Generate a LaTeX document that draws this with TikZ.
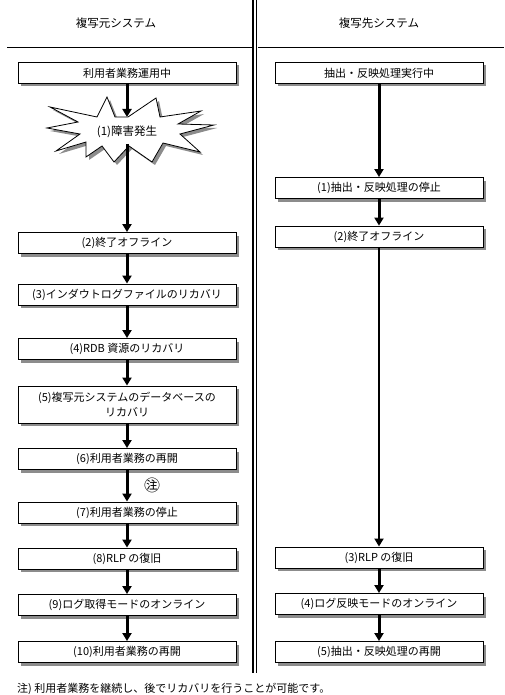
\documentclass[tikz,border=0pt]{standalone}
\usepackage{fontspec}
\setmainfont{Noto Sans CJK JP}
\usetikzlibrary{arrows.meta,shadows}
\begin{document}
\begin{tikzpicture}[x=1pt,y=-1pt,
  lbox/.style={draw=black, line width=0.9pt, fill=white, inner sep=0pt,
    minimum width=218pt, minimum height=21pt, align=center,
    font=\fontsize{11}{15}\selectfont,
    drop shadow={shadow xshift=3pt, shadow yshift=-3pt, fill=black!45, opacity=1}},
  rbox/.style={lbox, minimum width=208pt},
  flow/.style={line width=3pt, -{Triangle[length=8pt,width=9pt]}},
  thinflow/.style={line width=1.8pt, -{Triangle[length=8pt,width=9pt]}},
  head/.style={font=\fontsize{11.5}{14}\selectfont},
  divider/.style={line width=1.2pt}]
\useasboundingbox (0,0) rectangle (504,695);
\fill[white] (0,0) rectangle (504,695);

% header
\node[head] (hL) at (116,23) {複写元システム};
\node[head] (hR) at (379,23) {複写先システム};
\draw[line width=1pt] (7,48) -- (504,48);
\fill[white] (251.5,0) rectangle (258,673);
\draw[divider] (253,0) -- (253,673);
\draw[divider] (256.6,0) -- (256.6,673);

% left column
\node[lbox] (L0) at (127,73) {利用者業務運用中};

% starburst
\fill[black!45, shift={(3,3)}]
  (128,117) -- (156,98) -- (160,117) -- (201,111) -- (178,124) -- (214,125)
  -- (180,134) -- (200,152) -- (163,143) -- (152,162) -- (129,146) -- (114,162)
  -- (102,146) -- (86,157) -- (86,142) -- (56,151) -- (80,134) -- (47,128)
  -- (78,122) -- (50,107) -- (97,117) -- (107,97) -- (115,117) -- cycle;
\filldraw[fill=white, draw=black, line width=0.8pt]
  (128,117) -- (156,98) -- (160,117) -- (201,111) -- (178,124) -- (214,125)
  -- (180,134) -- (200,152) -- (163,143) -- (152,162) -- (129,146) -- (114,162)
  -- (102,146) -- (86,157) -- (86,142) -- (56,151) -- (80,134) -- (47,128)
  -- (78,122) -- (50,107) -- (97,117) -- (107,97) -- (115,117) -- cycle;
\node[font=\fontsize{11.5}{14}\selectfont] (burst) at (127,132) {(1)障害発生};
\coordinate (burstTop) at (127,117);
\coordinate (burstBot) at (127,144);

\node[lbox] (L2) at (127,243) {(2)終了オフライン};
\node[lbox] (L3) at (127,294.5) {(3)インダウトログファイルのリカバリ};
\node[lbox] (L4) at (127,349) {(4)RDB 資源のリカバリ};
\node[lbox, minimum height=37pt] (L5) at (127,404.5) {(5)複写元システムのデータベースの\\リカバリ};
\node[lbox] (L6) at (127,459) {(6)利用者業務の再開};
\node[lbox] (L7) at (127,512.5) {(7)利用者業務の停止};
\node[lbox] (L8) at (127,558.5) {(8)RLP の復旧};
\node[lbox] (L9) at (127,605) {(9)ログ取得モードのオンライン};
\node[lbox] (L10) at (127,652) {(10)利用者業務の再開};

\draw[flow] (L0.south) -- (burstTop);
\draw[flow] (burstBot) -- (L2.north);
\draw[flow] (L2) -- (L3);
\draw[flow] (L3) -- (L4);
\draw[flow] (L4) -- (L5);
\draw[flow] (L5) -- (L6);
\draw[flow] (L6) -- (L7);
\draw[flow] (L7) -- (L8);
\draw[flow] (L8) -- (L9);
\draw[flow] (L9) -- (L10);
\node[font=\fontsize{16}{16}\selectfont, inner sep=0pt] (note1) at (152,485) {㊟};

% right column
\node[rbox] (R0) at (379,73) {抽出・反映処理実行中};
\node[rbox] (R1) at (379,188) {(1)抽出・反映処理の停止};
\node[rbox] (R2) at (379,236.5) {(2)終了オフライン};
\node[rbox] (R3) at (379,557.5) {(3)RLP の復旧};
\node[rbox] (R4) at (379,604) {(4)ログ反映モードのオンライン};
\node[rbox] (R5) at (379,652) {(5)抽出・反映処理の再開};

\draw[flow] (R0) -- (R1);
\draw[flow] (R1) -- (R2);
\draw[thinflow] (R2) -- (R3);
\draw[flow] (R3) -- (R4);
\draw[flow] (R4) -- (R5);

% footnote
\node[anchor=west, font=\fontsize{11}{14}\selectfont, inner sep=0pt] (fn) at (17,689)
  {注)\ 利用者業務を継続し、後でリカバリを行うことが可能です。};
\end{tikzpicture}
\end{document}
